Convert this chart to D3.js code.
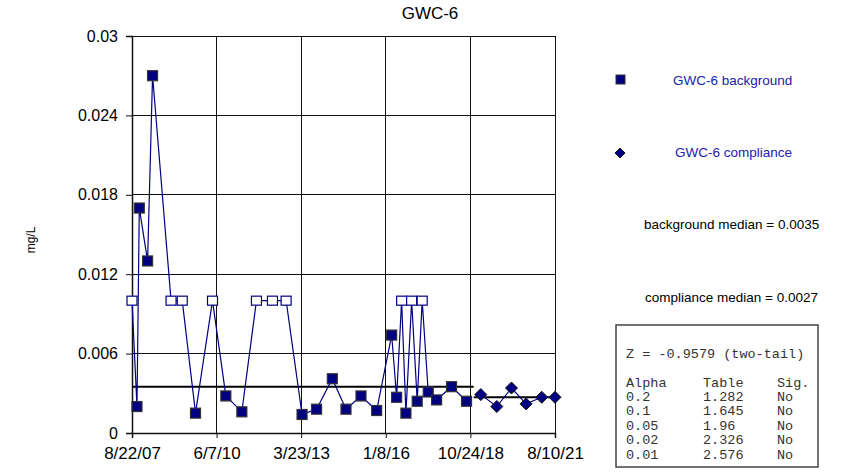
<!DOCTYPE html>
<html><head><meta charset="utf-8">
<script src="https://cdn.jsdelivr.net/npm/d3@7"></script>
<style>body{margin:0;background:#fff;} svg{display:block;font-family:Arial,"Liberation Sans",sans-serif;}</style>
</head><body>
<svg id="chart" width="843" height="473"></svg>
<script>
// ---- data ----
const title = "GWC-6";
const yLabel = "mg/L";
const xTickDates = ["2007-08-22","2010-06-07","2013-03-23","2016-01-08","2018-10-24","2021-08-10"];
const xTickLabels = ["8/22/07","6/7/10","3/23/13","1/8/16","10/24/18","8/10/21"];
const yTickValues = [0, 0.006, 0.012, 0.018, 0.024, 0.03];
const yTickLabels = ["0","0.006","0.012","0.018","0.024","0.03"];

const bgDates = ["2007-08-22","2007-10-21","2007-11-18","2008-02-26","2008-04-26","2008-12-05","2009-04-19","2009-09-26","2010-04-19","2010-09-27","2011-04-08","2011-10-01","2012-04-11","2012-09-23","2013-04-03","2013-09-25","2014-04-03","2014-09-15","2015-03-15","2015-09-20","2016-03-19","2016-05-18","2016-07-17","2016-09-07","2016-11-15","2017-01-21","2017-03-22","2017-06-03","2017-09-12","2018-03-11","2018-09-08"];
const bgValues = [0.01,0.002,0.017,0.013,0.027,0.01,0.01,0.0015,0.01,0.0028,0.0016,0.01,0.01,0.01,0.0014,0.0018,0.0041,0.0018,0.0028,0.0017,0.0074,0.0027,0.01,0.0015,0.01,0.0024,0.01,0.0031,0.0025,0.0035,0.0024];
const bgNonDetect = [1,0,0,0,0,1,1,0,1,0,0,1,1,1,0,0,0,0,0,0,0,0,1,0,1,0,1,0,0,0,0];

const compDates = ["2019-02-27","2019-09-08","2020-03-03","2020-08-26","2021-03-03","2021-08-10"];
const compValues = [0.0029,0.002,0.0034,0.0022,0.0027,0.0027];

const bgMedian = 0.0035;
const compMedian = 0.0027;
const legendLabels = ["GWC-6 background","GWC-6 compliance"];
const medianLabels = ["background median = 0.0035","compliance median = 0.0027"];
const zLine = "Z = -0.9579 (two-tail)";
const statHeader = ["Alpha","Table","Sig."];
const statAlpha = ["0.2","0.1","0.05","0.02","0.01"];
const statTable = ["1.282","1.645","1.96","2.326","2.576"];
const statSig = ["No","No","No","No","No"];

// ---- chart ----
const parse = d3.timeParse("%Y-%m-%d");
const svg = d3.select("#chart");
const navy = "#000080";
const L = 132, R = 555, T = 36, B = 433;

const x = d3.scaleTime().domain([parse(xTickDates[0]), parse(xTickDates[xTickDates.length-1])]).range([L, R]);
const y = d3.scaleLinear().domain([0, 0.03]).range([B, T]);

const bg = bgDates.map((d,i)=>({date:parse(d), v:bgValues[i], nd:bgNonDetect[i]===1}));
const comp = compDates.map((d,i)=>({date:parse(d), v:compValues[i]}));

// title
svg.append("text").attr("x", 430).attr("y", 19).attr("text-anchor","middle")
  .attr("font-size", 17).attr("fill","#000").text(title);

// y label
svg.append("text").attr("transform","translate(35,240) rotate(-90)").attr("text-anchor","middle")
  .attr("font-size", 12).attr("fill","#000").text(yLabel);

// grid
const grid = svg.append("g").attr("stroke","#111").attr("stroke-width",1).attr("shape-rendering","crispEdges");
grid.selectAll("line.h").data(yTickValues).join("line").attr("class","h")
  .attr("x1", L).attr("x2", R).attr("y1", d=>y(d)).attr("y2", d=>y(d));
grid.selectAll("line.v").data(xTickDates).join("line").attr("class","v")
  .attr("x1", d=>x(parse(d))).attr("x2", d=>x(parse(d))).attr("y1", T).attr("y2", B);

// axes
const yAxis = svg.append("g").attr("transform",`translate(${L},0)`)
  .call(d3.axisLeft(y).tickValues(yTickValues).tickFormat((d,i)=>yTickLabels[i]).tickSize(6).tickPadding(8));
const xAxis = svg.append("g").attr("transform",`translate(0,${B})`)
  .call(d3.axisBottom(x).tickValues(xTickDates.map(parse)).tickFormat((d,i)=>xTickLabels[i]).tickSize(5).tickPadding(9));
[yAxis, xAxis].forEach(a=>{
  a.select(".domain").attr("stroke","#111").attr("stroke-width",1.5);
  a.selectAll(".tick line").attr("stroke","#111");
  a.selectAll("text").attr("fill","#000").attr("font-family","Arial, 'Liberation Sans', sans-serif");
});
yAxis.selectAll("text").attr("font-size",16);
xAxis.selectAll("text").attr("font-size",17);

// median lines
const split = new Date((bg[bg.length-1].date.getTime() + comp[0].date.getTime())/2);
svg.append("line").attr("x1", x(x.domain()[0])).attr("x2", x(split))
  .attr("y1", y(bgMedian)).attr("y2", y(bgMedian)).attr("stroke","#000").attr("stroke-width",2);
svg.append("line").attr("x1", x(split)).attr("x2", x(x.domain()[1]))
  .attr("y1", y(compMedian)).attr("y2", y(compMedian)).attr("stroke","#000").attr("stroke-width",2);

// series lines
const line = d3.line().x(d=>x(d.date)).y(d=>y(d.v));
svg.append("path").datum(bg).attr("d", line).attr("fill","none").attr("stroke", navy).attr("stroke-width",1.2);
svg.append("path").datum(comp).attr("d", line).attr("fill","none").attr("stroke", navy).attr("stroke-width",1.2);

// markers
svg.selectAll("rect.bg").data(bg).join("rect").attr("class","bg")
  .attr("x", d=>x(d.date)-5).attr("y", d=>y(d.v)-5).attr("width",10).attr("height",d=>d.nd?9:10)
  .attr("transform", d=>d.nd?"translate(0,0.5)":null)
  .attr("fill", d=>d.nd?"#fff":navy).attr("stroke", d=>d.nd?navy:"#333").attr("stroke-width",1.2);
const diamond = "M0,-6L6,0L0,6L-6,0Z";
svg.selectAll("path.cp").data(comp).join("path").attr("class","cp")
  .attr("transform", d=>`translate(${x(d.date)},${y(d.v)})`).attr("d", diamond)
  .attr("fill", navy).attr("stroke","#111").attr("stroke-width",1);

// legend
svg.append("rect").attr("x",616).attr("y",75).attr("width",9).attr("height",9).attr("fill",navy).attr("stroke","#333");
svg.append("path").attr("transform","translate(620,153)").attr("d","M0,-5L5,0L0,5L-5,0Z").attr("fill",navy).attr("stroke","#111");
svg.append("text").attr("x",673).attr("y",85).attr("font-size",13.5).attr("fill","#2020b0").text(legendLabels[0]);
svg.append("text").attr("x",675).attr("y",157).attr("font-size",13.5).attr("fill","#2020b0").text(legendLabels[1]);
svg.append("text").attr("x",644).attr("y",229).attr("font-size",13.5).attr("fill","#000").text(medianLabels[0]);
svg.append("text").attr("x",645).attr("y",302).attr("font-size",13.5).attr("fill","#000").text(medianLabels[1]);

// stats box
const box = svg.append("g");
box.append("rect").attr("x",616).attr("y",325).attr("width",202).attr("height",142)
  .attr("fill","#fff").attr("stroke","#444").attr("stroke-width",1.5);
const mono = "'Liberation Mono','Courier New',monospace";
const tx = (xx, yy, s) => box.append("text").attr("x",xx).attr("y",yy).attr("font-family",mono)
  .attr("font-size",13.5).attr("fill","#333").text(s);
tx(626, 358, zLine);
tx(626, 387, statHeader[0]); tx(703, 387, statHeader[1]); tx(777, 387, statHeader[2]);
statAlpha.forEach((a,i)=>{
  const yy = 401 + i*14.4;
  tx(626, yy, a); tx(703, yy, statTable[i]); tx(777, yy, statSig[i]);
});
</script>
</body></html>
